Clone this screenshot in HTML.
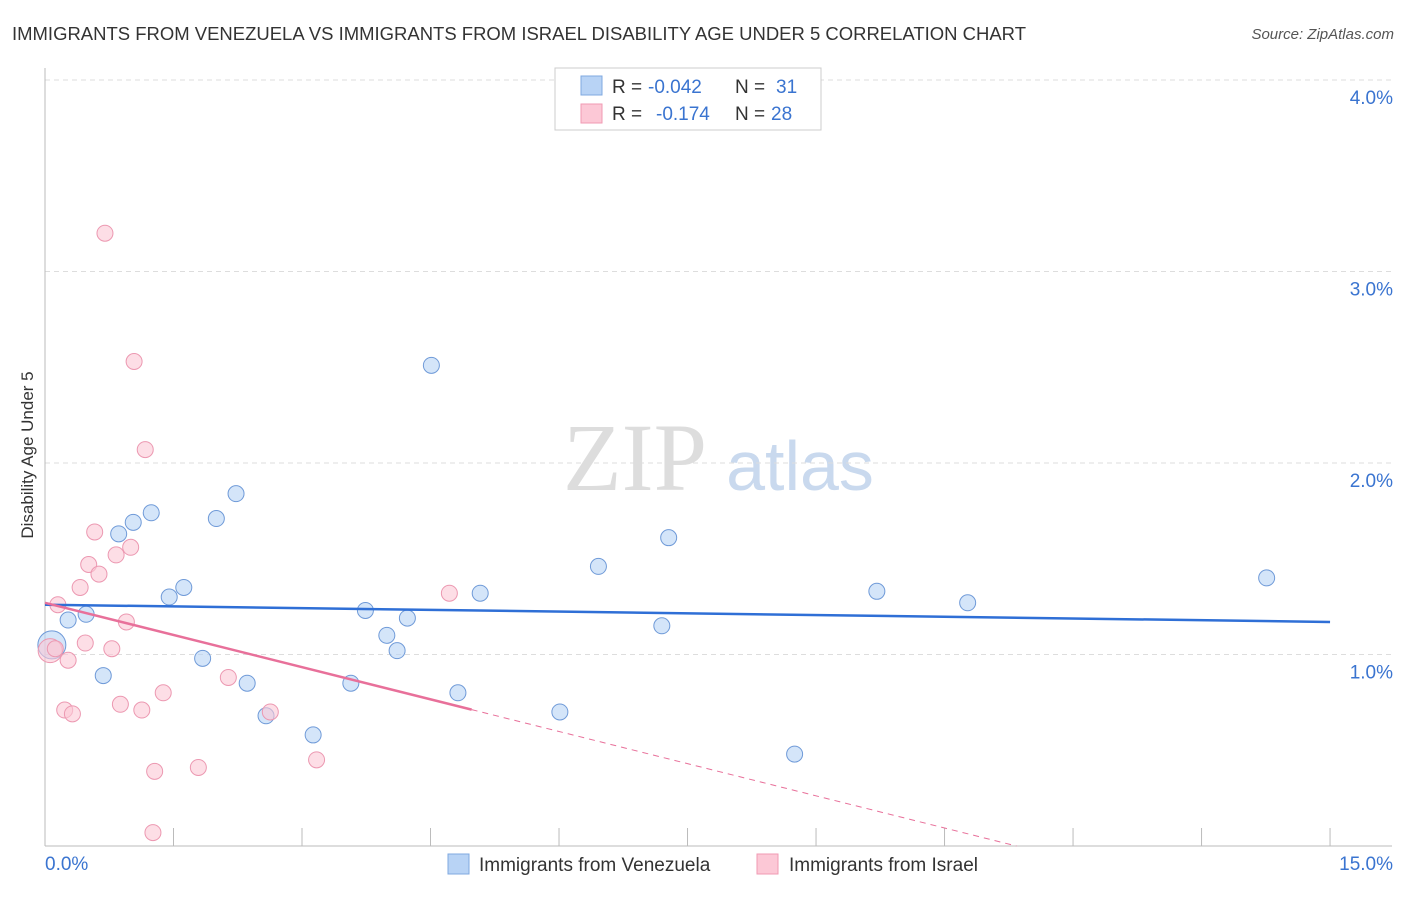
<!DOCTYPE html>
<html><head><meta charset="utf-8"><style>
body{margin:0;background:#fff;font-family:"Liberation Sans",sans-serif;}
svg text{font-family:"Liberation Sans",sans-serif;}
</style></head><body>
<svg id="chart" width="1406" height="892" xmlns="http://www.w3.org/2000/svg">
<text x="12" y="40" font-size="18" fill="#333" textLength="1014" lengthAdjust="spacingAndGlyphs">IMMIGRANTS FROM VENEZUELA VS IMMIGRANTS FROM ISRAEL DISABILITY AGE UNDER 5 CORRELATION CHART</text>
<text x="1394" y="39" font-size="15" fill="#555" text-anchor="end" font-style="italic">Source: ZipAtlas.com</text>
<text transform="translate(33,455) rotate(-90)" font-size="17" fill="#333" text-anchor="middle">Disability Age Under 5</text>
<g><text x="635" y="490" font-size="96" fill="#ddd" font-family="Liberation Serif" text-anchor="middle" style="font-family:'Liberation Serif',serif">ZIP</text><text x="800" y="490" font-size="70" fill="#c9d9ee" text-anchor="middle">atlas</text></g>
<g id="grid"></g><g id="axes"></g><g id="marks"></g>
<g>
<rect x="555" y="68" width="266" height="62" fill="#fff" stroke="#ccc"/>
<rect x="581" y="76" width="21" height="19" fill="#b8d3f5" stroke="#7fa8e0"/>
<rect x="581" y="104" width="21" height="19" fill="#fcc8d6" stroke="#f09ab3"/>
<text x="612" y="93" font-size="19" fill="#333">R =</text>
<text x="648" y="93" font-size="19" fill="#3a74d0">-0.042</text>
<text x="735" y="93" font-size="19" fill="#333">N =</text>
<text x="776" y="93" font-size="19" fill="#3a74d0">31</text>
<text x="612" y="120" font-size="19" fill="#333">R =</text>
<text x="656" y="120" font-size="19" fill="#3a74d0">-0.174</text>
<text x="735" y="120" font-size="19" fill="#333">N =</text>
<text x="771" y="120" font-size="19" fill="#3a74d0">28</text>
</g>
<g>
<rect x="448" y="854" width="21" height="20" fill="#b8d3f5" stroke="#7fa8e0"/>
<text x="479" y="871" font-size="19" fill="#333">Immigrants from Venezuela</text>
<rect x="757" y="854" width="21" height="20" fill="#fcc8d6" stroke="#f09ab3"/>
<text x="789" y="871" font-size="19" fill="#333">Immigrants from Israel</text>
</g>
</svg>
<script>
const blueX=[0.08,0.27,0.48,0.68,0.86,1.03,1.24,1.45,1.62,1.84,2.00,2.23,2.36,2.58,3.13,3.57,3.74,3.99,4.11,4.23,4.51,4.82,5.08,6.01,6.46,7.20,7.28,8.75,9.71,10.77,14.26];
const blueY=[1.05,1.18,1.21,0.89,1.63,1.69,1.74,1.30,1.35,0.98,1.71,1.84,0.85,0.68,0.58,0.85,1.23,1.10,1.02,1.19,2.51,0.80,1.32,0.70,1.46,1.15,1.61,0.48,1.33,1.27,1.40];
const pinkX=[0.06,0.12,0.15,0.27,0.23,0.32,0.41,0.47,0.51,0.58,0.63,0.70,0.78,0.83,0.88,0.95,1.00,1.04,1.13,1.17,1.26,1.28,1.38,1.79,2.14,2.63,3.17,4.72];
const pinkY=[1.02,1.03,1.26,0.97,0.71,0.69,1.35,1.06,1.47,1.64,1.42,3.20,1.03,1.52,0.74,1.17,1.56,2.53,0.71,2.07,0.07,0.39,0.80,0.41,0.88,0.70,0.45,1.32];
const yTicks=[1,2,3,4];
const xTickLabels=["0.0%","15.0%"];
const blueTrend=[1.26,1.17];
const pinkTrend=[1.27,-0.112];
const NS="http://www.w3.org/2000/svg";
const X=v=>45+v*85.67, Y=v=>846-v*191.5;
function mk(p,t,a){const e=document.createElementNS(NS,t);for(const k in a)e.setAttribute(k,a[k]);document.getElementById(p).appendChild(e);return e;}
yTicks.forEach(t=>{
 const l=mk('grid','line',{x1:45,x2:1392,y1:Y(t),y2:Y(t),stroke:'#ddd','stroke-dasharray':'5,4'});
 
 
 const tx=mk('grid','text',{x:1393,y:Y(t)+24,'font-size':19,fill:'#3a74d0','text-anchor':'end'});tx.textContent=t.toFixed(1)+'%';
 
 
});
const ya=mk('axes','line',{x1:45,x2:45,y1:68,y2:846,stroke:'#bbb'});


const xa=mk('axes','line',{x1:45,x2:1392,y1:846,y2:846,stroke:'#bbb'});


for(let i=0;i<=10;i++){const t=mk('axes','line',{x1:X(i*1.5),x2:X(i*1.5),y1:828,y2:846,stroke:'#bbb'});
 
 }
const xl0=mk('axes','text',{x:45,y:870,'font-size':19,fill:'#3a74d0'});xl0.textContent=xTickLabels[0];


const xl1=mk('axes','text',{x:1393,y:870,'font-size':19,fill:'#3a74d0','text-anchor':'end'});xl1.textContent=xTickLabels[1];


blueX.forEach((x,i)=>{const c=mk('marks','circle',{cx:X(x),cy:Y(blueY[i]),r:i==0?14:8,fill:'rgba(184,211,245,0.6)',stroke:'#6f9ad8','stroke-width':1});
 
 });
pinkX.forEach((x,i)=>{const c=mk('marks','circle',{cx:X(x),cy:Y(pinkY[i]),r:i==0?12:8,fill:'rgba(252,200,214,0.6)',stroke:'#ec98b1','stroke-width':1});
 
 });
const bt=mk('marks','line',{x1:X(0),y1:Y(blueTrend[0]),x2:X(15),y2:Y(blueTrend[1]),stroke:'#2f6fd6','stroke-width':2.5});


const pe=4.98,pz=-pinkTrend[0]/pinkTrend[1];
const pt=mk('marks','line',{x1:X(0),y1:Y(pinkTrend[0]),x2:X(pe),y2:Y(pinkTrend[0]+pinkTrend[1]*pe),stroke:'#e8709a','stroke-width':2.5});


const pd=mk('marks','line',{x1:X(pe),y1:Y(pinkTrend[0]+pinkTrend[1]*pe),x2:X(pz),y2:Y(0),stroke:'#e8709a','stroke-width':1,'stroke-dasharray':'6,5'});


</script>
</body></html>
